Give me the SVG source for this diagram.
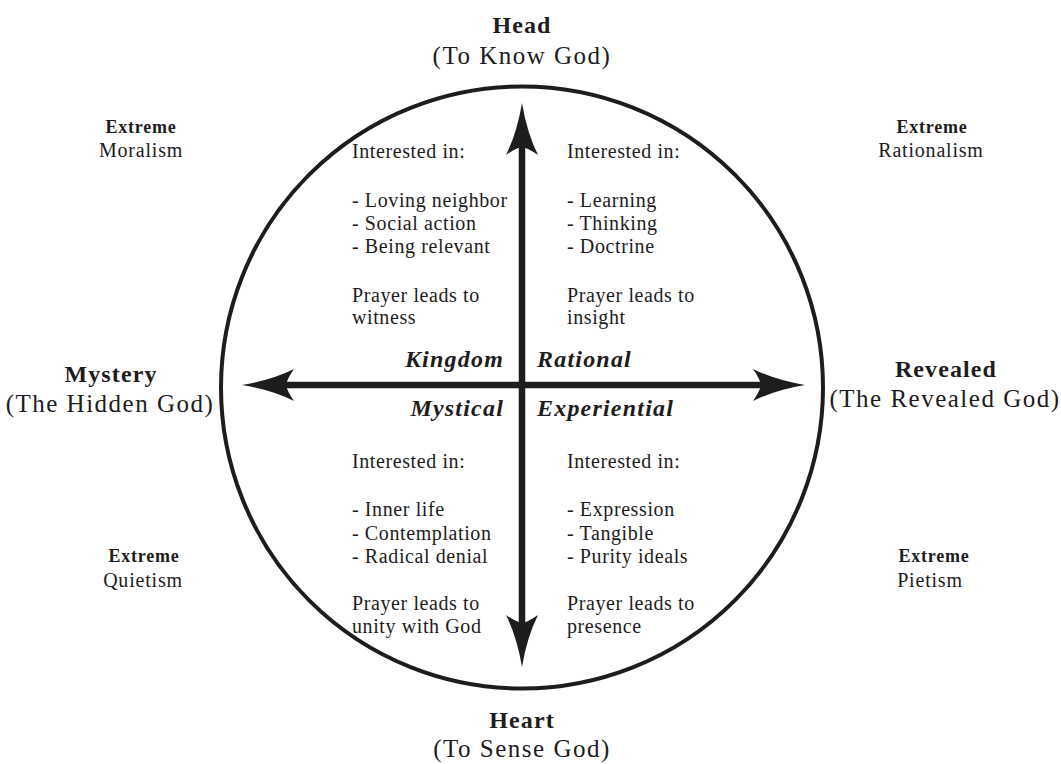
<svg xmlns="http://www.w3.org/2000/svg" width="1061" height="764" viewBox="0 0 1061 764">
<style>
text{font-family:"Liberation Serif","Times New Roman",serif;fill:#1e1c1d}
.h{font-size:24px;font-weight:bold;letter-spacing:1.1px;text-anchor:middle}
.s{font-size:25px;letter-spacing:1.5px;text-anchor:middle}
.b{font-size:20px;letter-spacing:0.6px}
.q{font-size:24px;font-weight:bold;font-style:italic;letter-spacing:1.2px}
.ex{font-size:18px;font-weight:bold;letter-spacing:0.8px;text-anchor:middle}
.en{font-size:20px;letter-spacing:0.8px;text-anchor:middle}
.ring{fill:none;stroke:#1e1c1d;stroke-width:4}
.shaft{stroke:#1e1c1d;stroke-width:6.5;fill:none}
.head{fill:#1e1c1d}
</style>
<defs>
<path id="ah" d="M0,0 Q5,30 16,52 Q6,45 0,44 Q-6,45 -16,52 Q-5,30 0,0 Z"/>
</defs>
<rect width="1061" height="764" fill="#ffffff"/>
<circle class="ring" cx="522" cy="387.5" r="301"/>
<g id="connectors">
<line class="shaft" x1="522" y1="140" x2="522" y2="630"/>
<line class="shaft" x1="280" y1="385" x2="767" y2="385"/>
<use href="#ah" class="head" transform="translate(522,103)"/>
<use href="#ah" class="head" transform="translate(522,667) rotate(180)"/>
<use href="#ah" class="head" transform="translate(242,385) rotate(-90)"/>
<use href="#ah" class="head" transform="translate(805,385) rotate(90)"/>
</g>
<g id="head">
<text class="h" x="522" y="33">Head</text>
<text class="s" x="522" y="64">(To Know God)</text>
</g>
<g id="heart">
<text class="h" x="522" y="728">Heart</text>
<text class="s" x="522" y="757">(To Sense God)</text>
</g>
<g id="mystery">
<text class="h" x="111" y="382">Mystery</text>
<text class="s" x="110" y="412">(The Hidden God)</text>
</g>
<g id="revealed">
<text class="h" x="946" y="377">Revealed</text>
<text class="s" x="945" y="407">(The Revealed God)</text>
</g>
<g id="extreme-moralism">
<text class="ex" x="141" y="133">Extreme</text>
<text class="en" x="141" y="157">Moralism</text>
</g>
<g id="extreme-rationalism">
<text class="ex" x="932" y="133">Extreme</text>
<text class="en" x="931" y="157">Rationalism</text>
</g>
<g id="extreme-quietism">
<text class="ex" x="144" y="562">Extreme</text>
<text class="en" x="143" y="587">Quietism</text>
</g>
<g id="extreme-pietism">
<text class="ex" x="934" y="562">Extreme</text>
<text class="en" x="930" y="587">Pietism</text>
</g>
<g id="kingdom">
<text class="q" x="504" y="367" text-anchor="end">Kingdom</text>
<text class="b" x="352" y="158">Interested in:</text>
<text class="b" x="352" y="207">- Loving neighbor</text>
<text class="b" x="352" y="230">- Social action</text>
<text class="b" x="352" y="253">- Being relevant</text>
<text class="b" x="352" y="302">Prayer leads to</text>
<text class="b" x="352" y="324">witness</text>
</g>
<g id="rational">
<text class="q" x="537" y="367">Rational</text>
<text class="b" x="567" y="158">Interested in:</text>
<text class="b" x="567" y="207">- Learning</text>
<text class="b" x="567" y="230">- Thinking</text>
<text class="b" x="567" y="253">- Doctrine</text>
<text class="b" x="567" y="302">Prayer leads to</text>
<text class="b" x="567" y="324">insight</text>
</g>
<g id="mystical">
<text class="q" x="504" y="416" text-anchor="end">Mystical</text>
<text class="b" x="352" y="468">Interested in:</text>
<text class="b" x="352" y="516">- Inner life</text>
<text class="b" x="352" y="540">- Contemplation</text>
<text class="b" x="352" y="563">- Radical denial</text>
<text class="b" x="352" y="610">Prayer leads to</text>
<text class="b" x="352" y="633">unity with God</text>
</g>
<g id="experiential">
<text class="q" x="537" y="416">Experiential</text>
<text class="b" x="567" y="468">Interested in:</text>
<text class="b" x="567" y="516">- Expression</text>
<text class="b" x="567" y="540">- Tangible</text>
<text class="b" x="567" y="563">- Purity ideals</text>
<text class="b" x="567" y="610">Prayer leads to</text>
<text class="b" x="567" y="633">presence</text>
</g>
</svg>
